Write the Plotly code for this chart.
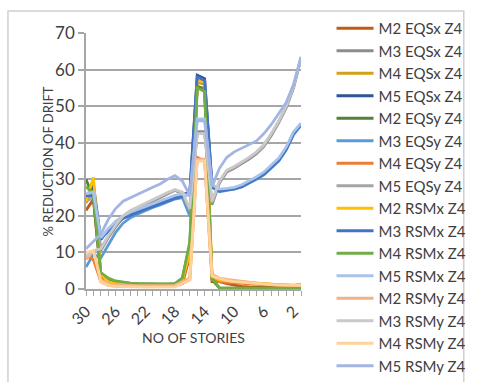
import plotly.graph_objects as go

# Stories listed from top (30) down to the ground floor (1)
stories = list(range(30, 0, -1))

m2_eqsx = [21.5, 24.5, 3.5, 1.5, 1.2, 1.0, 1.0, 0.9, 0.9, 0.8, 0.8, 0.8, 0.9, 1.5, 9.0,
           55.0, 55.0, 2.0, 2.0, 1.5, 1.0, 0.7, 0.6, 0.5, 0.5, 0.4, 0.4, 0.4, 0.3, 0.3]
m3_eqsx = [25.0, 26.0, 10.5, 14.0, 17.0, 19.5, 21.0, 22.0, 23.0, 24.0, 25.0, 26.0, 27.0, 26.0, 21.0,
           43.0, 43.0, 23.0, 29.0, 32.0, 33.0, 34.3, 35.5, 37.0, 39.0, 42.0, 45.5, 49.5, 55.0, 63.0]
m4_eqsx = [23.5, 28.0, 4.0, 2.0, 1.5, 1.3, 1.2, 1.1, 1.0, 1.0, 1.0, 1.0, 1.1, 2.5, 10.0,
           56.5, 56.0, 3.5, 2.5, 2.2, 2.0, 1.8, 1.7, 1.5, 1.4, 1.3, 1.2, 1.1, 1.0, 1.2]
m5_eqsx = [24.5, 28.5, 13.5, 16.2, 18.2, 19.6, 20.4, 21.1, 22.0, 22.7, 23.5, 24.3, 25.0, 25.8, 26.5,
           58.5, 57.5, 28.5, 27.0, 27.2, 27.5, 28.2, 29.2, 30.4, 31.6, 33.5, 35.5, 38.5, 42.8, 45.2]
m2_eqsy = [30.0, 25.0, 4.0, 2.5, 2.0, 1.7, 1.5, 1.4, 1.3, 1.3, 1.3, 1.3, 1.4, 3.0, 12.0,
           55.5, 54.5, 2.5, 0.3, 0.2, 0.2, 0.2, 0.2, 0.2, 0.2, 0.2, 0.2, 0.2, 0.2, 0.2]
m3_eqsy = [6.0, 9.5, 8.5, 12.0, 15.5, 18.0, 19.5, 20.5, 21.5, 22.3, 23.0, 23.8, 24.6, 25.0, 20.0,
           57.0, 56.0, 27.8, 26.6, 27.0, 27.3, 27.9, 28.9, 30.0, 31.2, 33.0, 35.0, 38.0, 42.2, 44.8]
m4_eqsy = [9.0, 8.0, 2.0, 1.0, 0.8, 0.7, 0.7, 0.7, 0.7, 0.7, 0.7, 0.7, 0.8, 1.5, 2.5,
           36.0, 35.0, 2.5, 2.0, 1.8, 1.6, 1.5, 1.4, 1.3, 1.2, 1.1, 1.0, 0.9, 0.8, 0.8]
m5_eqsy = [24.0, 25.0, 11.0, 14.5, 17.5, 19.8, 21.2, 22.3, 23.3, 24.3, 25.3, 26.2, 27.0, 26.3, 21.5,
           42.5, 42.5, 23.5, 29.5, 32.3, 33.2, 34.5, 35.8, 37.3, 39.3, 42.3, 45.8, 49.8, 55.3, 63.2]
m2_rsmx = [24.0, 30.5, 4.0, 2.0, 1.5, 1.3, 1.2, 1.1, 1.0, 1.0, 1.0, 1.0, 1.1, 2.5, 10.0,
           57.0, 56.5, 3.5, 2.5, 2.3, 2.1, 2.0, 1.8, 1.6, 1.5, 1.3, 1.2, 1.1, 1.0, 1.3]
m3_rsmx = [25.5, 25.5, 13.8, 15.8, 17.8, 19.3, 20.2, 20.9, 21.8, 22.5, 23.3, 24.0, 24.8, 25.3, 26.0,
           58.0, 57.0, 28.0, 26.8, 27.1, 27.4, 28.0, 29.0, 30.2, 31.4, 33.2, 35.2, 38.2, 42.5, 45.0]
m4_rsmx = [28.0, 26.0, 4.5, 3.0, 2.2, 1.8, 1.6, 1.5, 1.4, 1.4, 1.4, 1.4, 1.5, 3.0, 13.0,
           55.0, 54.0, 3.0, 0.3, 0.2, 0.2, 0.2, 0.2, 0.2, 0.2, 0.2, 0.2, 0.2, 0.2, 0.2]
m5_rsmx = [26.0, 26.5, 14.0, 16.5, 18.5, 20.0, 21.0, 21.8, 22.6, 23.3, 24.0, 24.8, 25.6, 26.0, 25.5,
           46.5, 46.5, 28.5, 27.3, 27.5, 27.8, 28.5, 29.5, 30.7, 32.0, 33.8, 35.8, 38.8, 43.0, 45.3]
m2_rsmy = [8.0, 10.5, 2.5, 1.5, 1.2, 1.0, 1.0, 0.9, 0.9, 0.9, 0.9, 0.9, 1.0, 2.0, 3.0,
           35.5, 35.5, 4.0, 3.0, 2.6, 2.3, 2.0, 1.8, 1.6, 1.4, 1.3, 1.1, 1.0, 0.9, 0.9]
m3_rsmy = [9.0, 10.5, 11.0, 14.5, 17.5, 20.0, 21.5, 22.5, 23.5, 24.5, 25.5, 26.4, 27.2, 26.5, 22.0,
           42.5, 42.5, 24.0, 29.5, 32.5, 33.5, 34.7, 36.0, 37.5, 39.5, 42.5, 46.0, 50.0, 55.5, 63.3]
m4_rsmy = [10.0, 10.5, 2.0, 1.0, 0.7, 0.6, 0.5, 0.5, 0.5, 0.5, 0.5, 0.5, 0.6, 1.5, 2.5,
           35.0, 35.0, 3.5, 2.8, 2.3, 2.0, 1.8, 1.6, 1.4, 1.3, 1.2, 1.1, 1.0, 1.0, 1.0]
m5_rsmy = [11.0, 13.0, 15.0, 19.0, 22.0, 24.0, 25.0, 26.0, 27.0, 27.8, 28.7, 30.0, 31.0, 29.5, 25.5,
           46.0, 46.0, 28.0, 33.0, 36.0, 37.5, 38.5, 39.5, 40.5, 42.5, 45.0, 48.0, 51.0, 56.0, 63.5]

series = [
    ("M2 EQSx Z4", m2_eqsx, "#C55A11"),
    ("M3 EQSx Z4", m3_eqsx, "#8C8C8C"),
    ("M4 EQSx Z4", m4_eqsx, "#D4A017"),
    ("M5 EQSx Z4", m5_eqsx, "#2F5597"),
    ("M2 EQSy Z4", m2_eqsy, "#548235"),
    ("M3 EQSy Z4", m3_eqsy, "#5B9BD5"),
    ("M4 EQSy Z4", m4_eqsy, "#ED7D31"),
    ("M5 EQSy Z4", m5_eqsy, "#A5A5A5"),
    ("M2 RSMx Z4", m2_rsmx, "#FFC000"),
    ("M3 RSMx Z4", m3_rsmx, "#4472C4"),
    ("M4 RSMx Z4", m4_rsmx, "#70AD47"),
    ("M5 RSMx Z4", m5_rsmx, "#A9C4EB"),
    ("M2 RSMy Z4", m2_rsmy, "#F4B183"),
    ("M3 RSMy Z4", m3_rsmy, "#C9C9C9"),
    ("M4 RSMy Z4", m4_rsmy, "#FFD29A"),
    ("M5 RSMy Z4", m5_rsmy, "#A3B5E3"),
]

FONT = "Lato, Roboto, sans-serif"
TXT = "#404040"
AX = "#A6A6A6"

fig = go.Figure()
for name, vals, color in series:
    fig.add_trace(go.Scatter(
        x=stories, y=vals, name=name, mode="lines",
        line=dict(color=color, width=2.8),
    ))

fig.update_layout(
    width=484, height=382,
    margin=dict(l=86, r=172, t=33, b=93),
    paper_bgcolor="white", plot_bgcolor="white",
    font=dict(family=FONT, size=15, color=TXT),
    showlegend=True,
    legend=dict(
        x=1.142, y=1.06, xanchor="left", yanchor="top",
        font=dict(family=FONT, size=15, color=TXT),
        bgcolor="rgba(0,0,0,0)", tracegroupgap=0,
        itemwidth=37, maxheight=600,
    ),
    xaxis=dict(
        range=[30, 1], tickmode="array", tickvals=[30, 26, 22, 18, 14, 10, 6, 2],
        tickangle=-45, ticks="outside", ticklen=5, tickcolor=AX, tickwidth=1,
        showgrid=False, zeroline=False, showline=True, linecolor=AX, linewidth=1.5,
        tickfont=dict(family=FONT, size=16, color=TXT),
        minor=dict(tickmode="linear", tick0=0, dtick=1, ticks="outside", ticklen=5,
                   tickcolor=AX, tickwidth=1, showgrid=False),
    ),
    yaxis=dict(
        range=[0, 70], dtick=10, ticks="outside", ticklen=6, tickcolor=AX, tickwidth=1.5,
        showgrid=True, gridcolor=AX, gridwidth=1.5, zeroline=False,
        showline=True, linecolor=AX, linewidth=1.5,
        tickfont=dict(family=FONT, size=17, color=TXT),
    ),
    annotations=[
        dict(text="% REDUCTION OF DRIFT", xref="paper", yref="paper",
             x=-0.221, y=0.5, textangle=-90, showarrow=False,
             font=dict(family=FONT, size=13, color=TXT)),
        dict(text="NO OF STORIES", xref="paper", yref="paper",
             x=0.5, y=-0.23, showarrow=False,
             font=dict(family=FONT, size=14, color=TXT)),
    ],
    shapes=[
        dict(type="rect", xref="paper", yref="paper",
             x0=-0.363, x1=1.757, y0=-0.5, y1=1.086,
             line=dict(color="#D0D0D0", width=1.5), layer="below"),
    ],
)

fig.write_html("out.html")
